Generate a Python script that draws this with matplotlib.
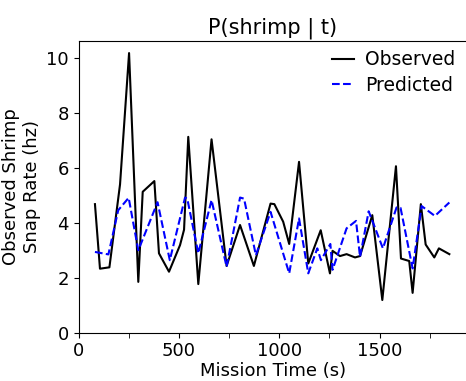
import matplotlib
matplotlib.use("Agg")
import matplotlib.pyplot as plt
from matplotlib.ticker import MultipleLocator

# observed snap rate vertices (time in s, rate in hz)
obs_t = [82, 107, 154, 207, 252, 298, 320, 378, 401, 451, 506, 526, 547, 597,
         663, 738, 805, 874, 957, 976, 1020, 1050, 1099, 1145, 1207, 1253, 1266,
         1303, 1336, 1378, 1403, 1464, 1514, 1582, 1607, 1648, 1665, 1706, 1730,
         1773, 1796, 1848]
obs_v = [4.68, 2.33, 2.38, 5.40, 10.18, 1.85, 5.13, 5.52, 2.89, 2.22, 3.19, 3.75,
         7.13, 1.77, 7.04, 2.43, 3.92, 2.43, 4.70, 4.68, 4.04, 3.23, 6.22, 2.52,
         3.73, 2.16, 2.98, 2.79, 2.86, 2.74, 2.79, 4.28, 1.19, 6.06, 2.70, 2.61,
         1.45, 4.68, 3.21, 2.74, 3.07, 2.86]

# predicted snap rate vertices
pred_t = [82, 149, 198, 250, 298, 394, 455, 531, 542, 597, 663, 738, 805, 825,
          884, 957, 1050, 1099, 1145, 1190, 1208, 1255, 1266, 1336, 1383, 1403,
          1446, 1517, 1585, 1605, 1665, 1710, 1776, 1848]
pred_v = [2.94, 2.85, 4.46, 4.91, 3.00, 4.75, 2.64, 4.92, 4.88, 2.89, 4.83, 2.40,
          4.92, 4.88, 2.82, 4.40, 2.16, 4.16, 2.16, 3.07, 2.64, 3.23, 2.29, 3.80,
          4.07, 2.76, 4.42, 3.07, 4.56, 4.54, 2.34, 4.61, 4.25, 4.74]

plt.rcParams['font.size'] = 13

fig = plt.figure(figsize=(4.66, 3.81), dpi=100)
ax = fig.add_axes([78.5 / 466, 48.3 / 381, (467 - 78.5) / 466, 292 / 381])

ax.plot(obs_t, obs_v, color='black', lw=1.5, label='Observed')
ax.plot(pred_t, pred_v, color='blue', lw=1.5, ls='--', label='Predicted')

ax.set_xlim(0, 1936)
ax.set_ylim(0, 10.63)
ax.xaxis.set_major_locator(MultipleLocator(500))
ax.xaxis.set_minor_locator(MultipleLocator(250))
ax.yaxis.set_major_locator(MultipleLocator(2))
ax.tick_params(which='minor', length=3.5)

ax.set_title('P(shrimp | t)', fontsize=15, pad=5)
ax.set_xlabel('Mission Time (s)', labelpad=1)
ax.set_ylabel('Observed Shrimp\nSnap Rate (hz)')
ax.legend(loc='upper right', frameon=False, borderaxespad=0.1,
          handlelength=1.2, handletextpad=0.6, labelspacing=0.35,
          fontsize=13.5, bbox_to_anchor=(0.995, 1.0))

fig.savefig('out.png', dpi=100)
